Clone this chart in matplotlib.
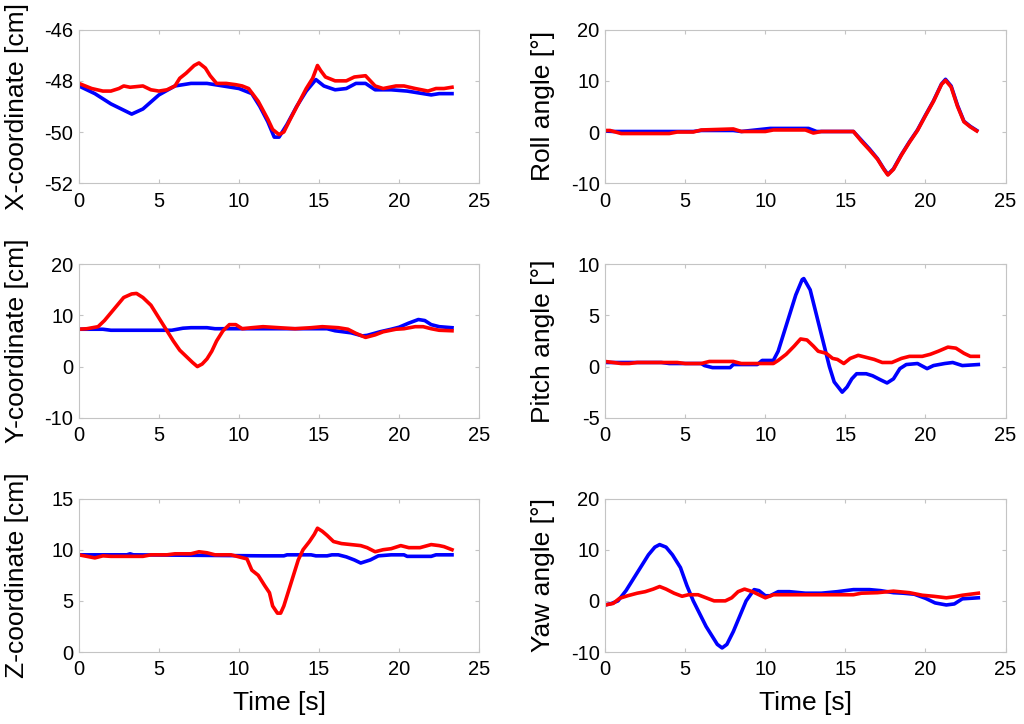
import matplotlib.pyplot as plt

plt.rcParams['font.family'] = ['Liberation Sans', 'DejaVu Sans']
plt.rcParams['axes.unicode_minus'] = False

# ---- X-coordinate [cm]
x_t_blue = [0, 1, 2, 3.3, 4, 5, 6, 7, 8, 9, 10, 10.8, 11.3, 11.8, 12.2, 12.5, 13, 13.6, 14.2, 14.8,
            15.3, 16, 16.7, 17.3, 17.9, 18.5, 19.5, 20.5, 21.5, 22, 22.5, 23.3]
x_blue = [-48.2, -48.5, -48.9, -49.3, -49.1, -48.55, -48.2, -48.1, -48.1, -48.2, -48.3, -48.5, -49.0, -49.6,
          -50.2, -50.2, -49.7, -49.0, -48.4, -47.95, -48.2, -48.35, -48.3, -48.1, -48.1, -48.35, -48.35,
          -48.4, -48.5, -48.55, -48.5, -48.5]
x_t_red = [0, 0.8, 1.5, 2, 2.5, 2.8, 3.2, 4, 4.5, 5, 5.5, 6, 6.3, 6.7, 7.2, 7.5, 7.9, 8.2, 8.6, 9.2, 9.8,
           10.2, 10.6, 11.2, 11.8, 12.1, 12.5, 12.8, 13.2, 13.7, 14.2, 14.6, 14.9, 15.1, 15.4, 16, 16.7,
           17.2, 17.9, 18.5, 19, 19.8, 20.3, 21, 21.8, 22.3, 22.8, 23.3]
x_red = [-48.1, -48.3, -48.4, -48.4, -48.3, -48.2, -48.25, -48.2, -48.35, -48.4, -48.35, -48.2, -47.9,
         -47.7, -47.4, -47.3, -47.5, -47.8, -48.1, -48.1, -48.15, -48.2, -48.3, -48.8, -49.5, -49.9, -50.1,
         -50.0, -49.5, -48.9, -48.3, -47.9, -47.4, -47.6, -47.85, -48.0, -48.0, -47.85, -47.8, -48.2,
         -48.3, -48.2, -48.2, -48.3, -48.4, -48.3, -48.3, -48.25]

# ---- Y-coordinate [cm]
y_t_blue = [0, 1.5, 2, 5.8, 6.5, 7, 8, 8.5, 15.5, 16, 17, 17.7, 18, 18.8, 19.5, 20, 20.6, 21.2, 21.6,
            22, 22.5, 23.3]
y_blue = [7.3, 7.3, 7.1, 7.1, 7.5, 7.6, 7.6, 7.4, 7.4, 7.0, 6.6, 6.0, 6.1, 6.8, 7.3, 7.7, 8.5, 9.2, 9.0,
          8.2, 7.8, 7.6]
y_t_red = [0, 0.5, 1.2, 1.6, 2, 2.4, 2.8, 3.3, 3.6, 4, 4.5, 4.9, 5.4, 5.9, 6.3, 6.7, 7.1, 7.4, 7.7, 8,
           8.3, 8.6, 9, 9.4, 9.8, 10.2, 10.8, 11.5, 12.5, 13.5, 14.5, 15.2, 16.2, 16.8, 17.3, 17.9, 18.5,
           19, 19.8, 20.3, 21, 21.5, 22, 22.5, 23.3]
y_red = [7.3, 7.4, 7.8, 9.0, 10.5, 12.0, 13.5, 14.2, 14.3, 13.5, 12.0, 10.0, 7.5, 5.0, 3.2, 2.0, 0.8, 0.0,
         0.5, 1.5, 3.0, 5.0, 7.0, 8.2, 8.2, 7.4, 7.6, 7.8, 7.6, 7.4, 7.6, 7.8, 7.6, 7.3, 6.5, 5.7, 6.2,
         6.8, 7.3, 7.4, 7.8, 7.8, 7.4, 7.1, 7.0]

# ---- Z-coordinate [cm]
z_t_blue = [0, 3, 3.2, 3.4, 11.5, 12.8, 13, 14.5, 14.8, 15.5, 15.8, 16.2, 16.7, 17.2, 17.6, 18.2, 18.7,
            19.5, 20.3, 20.5, 22, 22.3, 23.3]
z_blue = [9.5, 9.5, 9.6, 9.5, 9.4, 9.4, 9.5, 9.5, 9.4, 9.4, 9.5, 9.5, 9.3, 9.0, 8.7, 9.0, 9.4, 9.5, 9.5,
          9.35, 9.35, 9.5, 9.5]
z_t_red = [0, 1, 1.5, 2, 4, 4.5, 5.5, 6, 7, 7.5, 8, 8.5, 9.5, 10, 10.5, 10.8, 11.2, 11.6, 11.9, 12.1,
           12.4, 12.6, 12.8, 13.1, 13.4, 13.7, 14, 14.4, 14.7, 14.9, 15.2, 15.5, 15.9, 16.4, 17, 17.6, 18,
           18.5, 19, 19.5, 20.1, 20.6, 21.3, 22, 22.5, 22.8, 23.3]
z_red = [9.5, 9.2, 9.4, 9.35, 9.35, 9.5, 9.5, 9.6, 9.6, 9.8, 9.7, 9.5, 9.5, 9.3, 9.1, 8.0, 7.5, 6.5, 5.8,
         4.5, 3.8, 3.8, 4.5, 6.0, 7.5, 9.0, 10.0, 10.8, 11.5, 12.1, 11.8, 11.4, 10.8, 10.6, 10.5, 10.4,
         10.2, 9.8, 10.0, 10.1, 10.4, 10.2, 10.2, 10.5, 10.4, 10.3, 10.0]

# ---- Roll angle [deg]
roll_t_blue = [0, 0.5, 5.5, 6, 8, 8.5, 10.3, 12.7, 13.2, 15.5, 16, 16.5, 17, 17.4, 17.65, 18, 18.5, 19,
               19.5, 20, 20.5, 21, 21.25, 21.6, 22, 22.4, 22.8, 23.2]
roll_blue = [0.2, 0.1, 0.1, 0.3, 0.3, 0.1, 0.7, 0.7, 0.1, 0.1, -1.6, -3.3, -5.2, -7.2, -8.3, -7.2, -4.4,
             -1.9, 0.4, 3.3, 6.1, 9.4, 10.3, 9.0, 5.2, 2.1, 1.1, 0.3]
roll_t_red = [0, 0.3, 1, 4, 4.5, 5.5, 6, 8, 8.5, 10, 10.5, 12.5, 13, 13.5, 15.5, 16, 16.5, 17, 17.4,
              17.65, 18, 18.5, 19, 19.5, 20, 20.5, 21, 21.25, 21.6, 22, 22.4, 22.8, 23.2]
roll_red = [0.3, 0.3, -0.3, -0.3, 0.0, 0.0, 0.4, 0.6, 0.1, 0.1, 0.4, 0.4, -0.2, 0.1, 0.1, -1.8, -3.5,
            -5.3, -7.3, -8.4, -7.3, -4.5, -2.0, 0.3, 3.2, 6.0, 9.3, 10.1, 8.8, 5.0, 2.0, 1.0, 0.2]

# ---- Pitch angle [deg]
pitch_t_blue = [0, 3.5, 4, 6, 6.2, 6.7, 7.8, 8, 9.5, 9.8, 10.5, 10.8, 11.1, 11.5, 11.9, 12.3, 12.4,
                12.8, 13.2, 13.6, 14, 14.3, 14.8, 15.1, 15.4, 15.7, 16.3, 16.7, 17.2, 17.6, 18, 18.4,
                18.8, 19.5, 20.1, 20.5, 21.2, 21.7, 22.3, 23.3]
pitch_blue = [0.4, 0.4, 0.3, 0.3, 0.1, -0.1, -0.1, 0.2, 0.2, 0.6, 0.6, 1.5, 3.0, 5.0, 7.0, 8.5, 8.6, 7.5,
              5.0, 2.5, 0.0, -1.5, -2.5, -2.0, -1.2, -0.7, -0.7, -0.9, -1.3, -1.6, -1.2, -0.2, 0.2, 0.3,
              -0.2, 0.1, 0.3, 0.4, 0.1, 0.2]
pitch_t_red = [0, 1, 1.5, 2, 4.5, 5, 6, 6.5, 8, 8.5, 10.5, 10.8, 11.3, 11.8, 12.2, 12.6, 13, 13.3, 13.8,
               14.2, 14.5, 14.9, 15.3, 15.8, 16.3, 16.8, 17.3, 17.9, 18.5, 19, 19.8, 20.3, 20.8, 21.4,
               21.9, 22.4, 22.8, 23.3]
pitch_red = [0.5, 0.3, 0.3, 0.4, 0.4, 0.3, 0.3, 0.5, 0.5, 0.3, 0.3, 0.6, 1.2, 2.0, 2.7, 2.6, 2.0, 1.5, 1.3,
             0.8, 0.7, 0.3, 0.8, 1.1, 0.9, 0.7, 0.4, 0.4, 0.8, 1.0, 1.0, 1.2, 1.5, 1.9, 1.8, 1.3, 1.0, 1.0]

# ---- Yaw angle [deg]
yaw_t_blue = [0, 0.4, 0.8, 1.3, 1.8, 2.3, 2.7, 3.1, 3.4, 3.8, 4.2, 4.7, 5.1, 5.5, 5.9, 6.3, 6.7, 7.0,
              7.3, 7.6, 8, 8.4, 8.8, 9.3, 9.6, 10, 10.3, 10.8, 11.5, 12.5, 13.5, 14.5, 15.5, 16.5, 17.2,
              18, 18.6, 19.3, 20, 20.6, 21.3, 21.8, 22.3, 23.3]
yaw_blue = [-0.8, -0.5, 0.0, 2.0, 4.5, 7.0, 9.0, 10.5, 11.0, 10.5, 9.0, 6.5, 3.0, 0.0, -2.5, -5.0, -7.0,
            -8.5, -9.2, -8.5, -6.0, -3.0, 0.0, 2.2, 2.0, 1.0, 1.0, 1.8, 1.8, 1.5, 1.5, 1.8, 2.2, 2.2,
            2.0, 1.6, 1.5, 1.3, 0.5, -0.4, -0.8, -0.6, 0.4, 0.6]
yaw_t_red = [0, 0.5, 0.9, 1.4, 2, 2.5, 3, 3.4, 3.8, 4.3, 4.8, 5.2, 5.8, 6.3, 6.8, 7.5, 7.9, 8.3, 8.7, 9.2,
             9.6, 10, 10.5, 11.5, 14, 15.5, 16, 17, 18, 19, 19.8, 20.5, 21.3, 21.8, 22.3, 22.8, 23.3]
yaw_red = [-0.8, -0.5, 0.5, 1.0, 1.5, 1.8, 2.3, 2.8, 2.3, 1.5, 0.9, 1.2, 1.2, 0.6, 0.0, 0.0, 0.6, 1.8,
           2.3, 1.8, 1.2, 0.6, 1.2, 1.2, 1.2, 1.2, 1.5, 1.6, 1.9, 1.6, 1.1, 0.9, 0.6, 0.8, 1.1, 1.3, 1.5]

panels = [
    # (left, bottom), ylabel, ylim, yticks, blue, red
    ((0.077, 0.747), 'X-coordinate [cm]', (-52, -46), [-52, -50, -48, -46],
     (x_t_blue, x_blue), (x_t_red, x_red)),
    ((0.591, 0.747), 'Roll angle [°]', (-10, 20), [-10, 0, 10, 20],
     (roll_t_blue, roll_blue), (roll_t_red, roll_red)),
    ((0.077, 0.423), 'Y-coordinate [cm]', (-10, 20), [-10, 0, 10, 20],
     (y_t_blue, y_blue), (y_t_red, y_red)),
    ((0.591, 0.423), 'Pitch angle [°]', (-5, 10), [-5, 0, 5, 10],
     (pitch_t_blue, pitch_blue), (pitch_t_red, pitch_red)),
    ((0.077, 0.0994), 'Z-coordinate [cm]', (0, 15), [0, 5, 10, 15],
     (z_t_blue, z_blue), (z_t_red, z_red)),
    ((0.591, 0.0994), 'Yaw angle [°]', (-10, 20), [-10, 0, 10, 20],
     (yaw_t_blue, yaw_blue), (yaw_t_red, yaw_red)),
]

fig = plt.figure(figsize=(10.24, 7.24), dpi=100)

for i, (pos, ylab, ylim, yticks, blue, red) in enumerate(panels):
    ax = fig.add_axes([pos[0], pos[1], 0.391, 0.212])
    ax.plot(blue[0], blue[1], '-', color='#0000ff', linewidth=2.6)
    ax.plot(red[0], red[1], '-', color='#ff0000', linewidth=2.6)
    ax.set_xlim(0, 25)
    ax.set_ylim(*ylim)
    ax.set_xticks([0, 5, 10, 15, 20, 25])
    ax.set_yticks(yticks)
    for s in ax.spines.values():
        s.set_color('#c4c4c4')
        s.set_linewidth(0.8)
    ax.tick_params(direction='in', length=3, width=0.8, color='#c4c4c4',
                   labelsize=14.5, top=True, right=True)
    ax.tick_params(axis='x', pad=6)
    ax.tick_params(axis='y', pad=4)
    ax.set_ylabel(ylab, fontsize=19, va='center')
    ax.yaxis.set_label_coords(-0.155, 0.5)
    if i >= 4:
        ax.set_xlabel('Time [s]', fontsize=19, va='center')
        ax.xaxis.set_label_coords(0.5, -0.33)

plt.savefig('out.png', dpi=100)
